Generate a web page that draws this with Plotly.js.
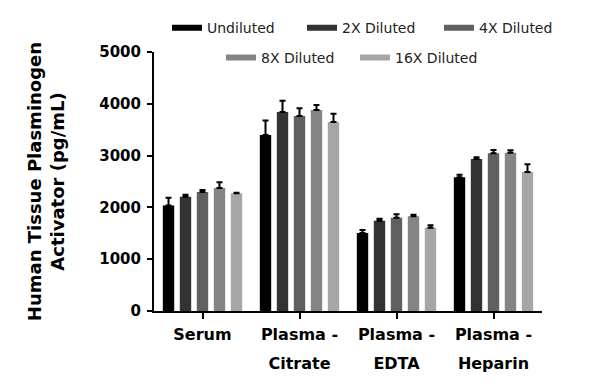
<!DOCTYPE html>
<html>
<head>
<meta charset="utf-8">
<script src="https://cdn.plot.ly/plotly-3.0.1.min.js"></script>
<style>html,body{margin:0;padding:0;background:#fff;}#chart{width:600px;height:386px;}</style>
</head>
<body>
<div id="chart"></div>
<script>
// Data
const categories = ["Serum", "Plasma - Citrate", "Plasma - EDTA", "Plasma - Heparin"];
const labelLine1 = ["Serum", "Plasma -", "Plasma -", "Plasma -"];
const labelLine2 = ["", "Citrate", "EDTA", "Heparin"];
const seriesNames = ["Undiluted", "2X Diluted", "4X Diluted", "8X Diluted", "16X Diluted"];
const undiluted = [2035, 3400, 1506, 2581];
const diluted2x = [2207, 3842, 1743, 2934];
const diluted4x = [2297, 3764, 1801, 3044];
const diluted8x = [2375, 3880, 1828, 3056];
const diluted16x = [2272, 3649, 1608, 2683];
const err_undiluted = [152, 276, 58, 50];
const err_2x = [38, 218, 39, 33];
const err_4x = [39, 149, 66, 64];
const err_8x = [109, 97, 31, 46];
const err_16x = [12, 160, 46, 149];
const yTicks = [0, 1000, 2000, 3000, 4000, 5000];

const values = [undiluted, diluted2x, diluted4x, diluted8x, diluted16x];
const errors = [err_undiluted, err_2x, err_4x, err_8x, err_16x];
const colors = ["#000000", "#333333", "#606060", "#858585", "#a6a6a6"];

const legendIds = ["legend", "legend2", "legend3", "legend4", "legend5"];
// legend item placement (pixel start of each entry, row)
const legendPx = [167, 302, 439, 221, 355];
const legendRowY = [0.927, 0.927, 0.927, 0.850, 0.850];

const traces = [];
values.forEach((v, i) => {
  traces.push({
    type: "bar", x: categories, y: v, name: seriesNames[i],
    marker: {color: colors[i], line: {width: 0}},
    error_y: {type: "data", symmetric: false, array: errors[i], arrayminus: v.map(() => 0),
              color: "#000", thickness: 2, width: 3},
    showlegend: false
  });
});
values.forEach((v, i) => {
  traces.push({
    type: "scatter", mode: "lines", x: [null], y: [null], name: seriesNames[i],
    line: {color: colors[i], width: 6},
    legend: legendIds[i], hoverinfo: "skip"
  });
});
// invisible trace to hold the second-line axis
traces.push({type: "scatter", mode: "markers", x: [0], y: [null], xaxis: "x2", showlegend: false, hoverinfo: "skip"});

const plotL = 154, plotW = 388;
const tickFont = {family: "DejaVu Sans", size: 15, color: "#000", weight: "bold"};
const xFont = {family: "DejaVu Sans", size: 16, color: "#000", weight: "bold"};
const layout = {
  width: 600, height: 386,
  margin: {l: plotL, r: 600 - plotL - plotW, t: 52, b: 75, autoexpand: false},
  paper_bgcolor: "#fff", plot_bgcolor: "#fff",
  barmode: "group", bargap: 0.124, bargroupgap: 0.33,
  showlegend: true,
  xaxis: {
    type: "category", range: [-0.5, 3.5], showgrid: false, zeroline: false,
    showline: true, linecolor: "#000", linewidth: 2,
    ticks: "outside", ticklen: 6, tickwidth: 2, tickcolor: "#000",
    tickmode: "array", tickvals: categories, ticktext: labelLine1, ticklabelstandoff: 2,
    tickfont: xFont, fixedrange: true
  },
  xaxis2: {
    overlaying: "x", anchor: "y", side: "bottom", type: "linear", range: [-0.5, 3.5],
    showgrid: false, zeroline: false, showline: false, ticks: "",
    tickmode: "array", tickvals: [0, 1, 2, 3], ticktext: labelLine2, ticklabelstandoff: 41,
    tickfont: xFont, fixedrange: true
  },
  yaxis: {
    range: [0, 5000], tickvals: yTicks, showgrid: false, zeroline: false,
    showline: true, linecolor: "#000", linewidth: 2,
    ticks: "outside", ticklen: 5, tickwidth: 2, tickcolor: "#000",
    tickfont: tickFont, fixedrange: true, ticklabelstandoff: 3,
    automargin: true,
    title: {text: "Human Tissue Plasminogen<br>Activator (pg/mL)", standoff: 30,
            font: {family: "DejaVu Sans", size: 18, color: "#000", weight: "bold"}}
  }
};
legendIds.forEach((id, i) => {
  layout[id] = {orientation: "h", x: (legendPx[i] - plotL) / plotW, xanchor: "left",
    y: legendRowY[i], yref: "container", yanchor: "middle",
    font: {family: "DejaVu Sans", size: 14, color: "#222"}, bgcolor: "rgba(0,0,0,0)"};
});

Plotly.newPlot("chart", traces, layout, {displayModeBar: false, staticPlot: true});
</script>
</body>
</html>
